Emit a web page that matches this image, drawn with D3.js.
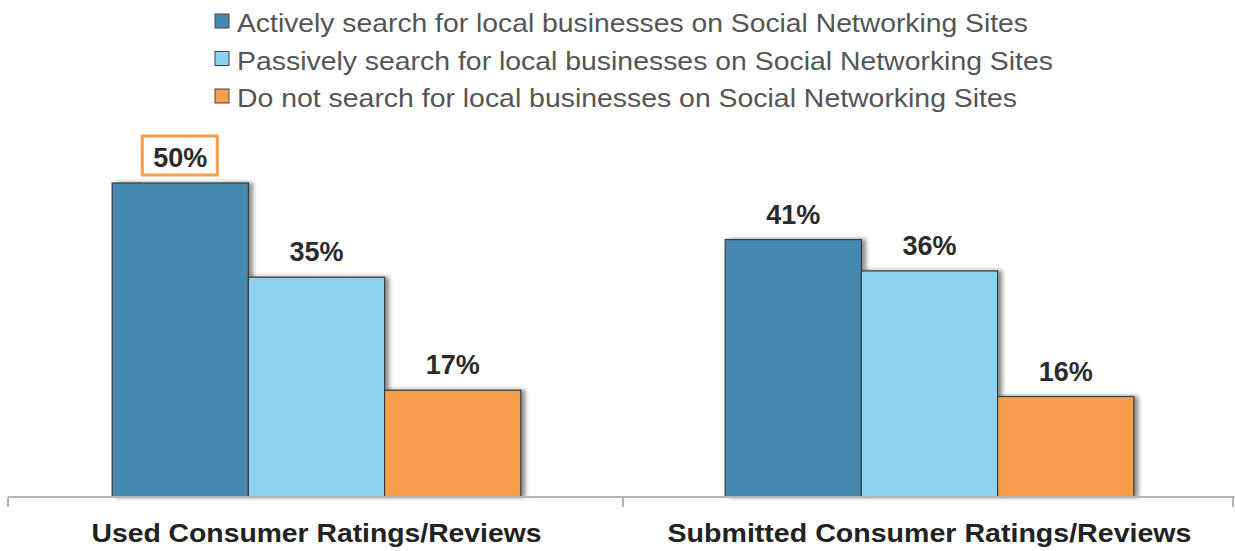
<!DOCTYPE html>
<html>
<head>
<meta charset="utf-8">
<script src="https://cdn.jsdelivr.net/npm/d3@7"></script>
<style>
  html, body { margin: 0; padding: 0; background: #fff; }
  svg { display: block; }
</style>
</head>
<body>
<svg id="chart" width="1235" height="551"></svg>
<script>
// Groups along the x axis
const categories = ["Used Consumer Ratings/Reviews", "Submitted Consumer Ratings/Reviews"];
// Series (one bar per group each)
const seriesNames = [
  "Actively search for local businesses on Social Networking Sites",
  "Passively search for local businesses on Social Networking Sites",
  "Do not search for local businesses on Social Networking Sites"
];
const activeValues  = [50, 41];
const passiveValues = [35, 36];
const noneValues    = [17, 16];
const seriesColors  = ["#4589b0", "#8dd3f0", "#f79d4b"];

const seriesValues = [activeValues, passiveValues, noneValues];

const svg = d3.select("#chart");
const W = 1235, H = 551;
const baseY = 497;
const FONT = "Liberation Sans, Arial, sans-serif";

// Soft grey shadow to the right of each bar
const defs = svg.append("defs");
const f = defs.append("filter").attr("id", "shadow")
  .attr("x", "-10%").attr("y", "-10%").attr("width", "130%").attr("height", "120%");
f.append("feOffset").attr("in", "SourceAlpha").attr("dx", 4).attr("dy", 0).attr("result", "off");
f.append("feGaussianBlur").attr("in", "off").attr("stdDeviation", 2).attr("result", "blur");
f.append("feComponentTransfer").attr("in", "blur").attr("result", "shade")
  .append("feFuncA").attr("type", "linear").attr("slope", 0.45);
const m = f.append("feMerge");
m.append("feMergeNode").attr("in", "shade");
m.append("feMergeNode").attr("in", "SourceGraphic");

const x0 = d3.scaleBand().domain(categories).range([10, 1236]);
const x1 = d3.scaleBand().domain(d3.range(seriesNames.length))
  .range([0, x0.bandwidth()]).paddingInner(0).paddingOuter(0.75);
const y = d3.scaleLinear().domain([0, 50]).range([baseY, 183]);

// Bars
const groups = svg.selectAll("g.grp").data(categories).join("g")
  .attr("class", "grp")
  .attr("transform", d => `translate(${x0(d)},0)`);

groups.each(function(c, ci) {
  const g = d3.select(this);
  const bars = seriesValues.map((vals, si) => ({ si, v: vals[ci] }));
  g.selectAll("rect.bar").data(bars).join("rect")
    .attr("class", "bar")
    .attr("x", d => x1(d.si))
    .attr("y", d => y(d.v))
    .attr("width", x1.bandwidth())
    .attr("height", d => baseY - y(d.v))
    .attr("fill", d => seriesColors[d.si])
    .attr("stroke", "#3a3a3a")
    .attr("stroke-width", 1.2)
    .attr("filter", "url(#shadow)");

  g.selectAll("text.val").data(bars).join("text")
    .attr("class", "val")
    .attr("x", d => x1(d.si) + x1.bandwidth() / 2)
    .attr("y", d => y(d.v) - 16)
    .attr("text-anchor", "middle")
    .attr("font-family", FONT)
    .attr("font-weight", "bold")
    .attr("font-size", 27)
    .attr("fill", "#2b2b2b")
    .text(d => d.v + "%");
});

// Highlight box around the largest value
const maxVal = d3.max(activeValues);
const maxIdx = activeValues.indexOf(maxVal);
const hx = x0(categories[maxIdx]) + x1(0) + x1.bandwidth() / 2;
svg.insert("rect", "g.grp")
  .attr("x", hx - 38).attr("y", y(maxVal) - 47)
  .attr("width", 75).attr("height", 39)
  .attr("fill", "#fff")
  .attr("stroke", "#f79d4b").attr("stroke-width", 3);

// X axis
const labelWidths = [450, 524];
const axis = d3.axisBottom(x0).tickSize(0).tickPadding(38);
const ax = svg.append("g").attr("transform", `translate(0,${baseY})`).call(axis);
ax.select(".domain").attr("d", "M8,0H1235").attr("stroke", "#b5b5b5").attr("stroke-width", 2);
ax.selectAll(".tick text")
  .attr("font-family", FONT)
  .attr("font-weight", "bold")
  .attr("font-size", 26)
  .attr("fill", "#222")
  .attr("dy", "0.25em")
  .attr("textLength", (d, i) => labelWidths[i])
  .attr("lengthAdjust", "spacingAndGlyphs");
// Group separators on the axis
const seps = [8, x0(categories[1]), 1233];
ax.selectAll("line.sep").data(seps).join("line")
  .attr("class", "sep")
  .attr("x1", d => d).attr("x2", d => d)
  .attr("y1", 0).attr("y2", 10)
  .attr("stroke", "#b5b5b5").attr("stroke-width", 2);

// Legend
const legendWidths = [791, 816, 780];
const legend = svg.append("g").attr("transform", "translate(215,0)");
const li = legend.selectAll("g").data(seriesNames).join("g")
  .attr("transform", (d, i) => `translate(0,${32 + i * 37.5})`);
li.append("rect")
  .attr("x", 0).attr("y", -18).attr("width", 14).attr("height", 14)
  .attr("fill", (d, i) => seriesColors[i])
  .attr("stroke", "#444").attr("stroke-width", 1);
li.append("text")
  .attr("x", 22).attr("y", 0)
  .attr("font-family", FONT)
  .attr("font-size", 25)
  .attr("fill", "#555")
  .attr("textLength", (d, i) => legendWidths[i])
  .attr("lengthAdjust", "spacingAndGlyphs")
  .text(d => d);
</script>
</body>
</html>
